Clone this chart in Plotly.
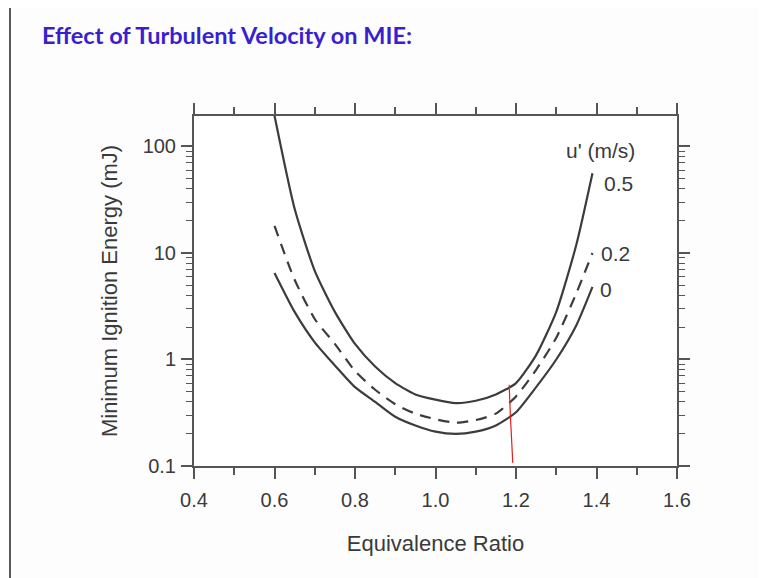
import plotly.graph_objects as go
import numpy as np

# Data
phi = [0.60, 0.65, 0.70, 0.75, 0.80, 0.85, 0.90, 0.95, 1.00, 1.05, 1.10, 1.15, 1.20, 1.25, 1.30, 1.35, 1.39]
mie_u05 = [195, 26, 6.8, 2.8, 1.4, 0.86, 0.6, 0.47, 0.42, 0.39, 0.41, 0.47, 0.6, 1.1, 2.8, 12, 56]
mie_u02 = [18, 5.6, 2.4, 1.4, 0.78, 0.52, 0.38, 0.31, 0.275, 0.255, 0.27, 0.31, 0.45, 0.8, 1.6, 4.2, 10]
mie_u00 = [6.5, 2.8, 1.45, 0.88, 0.55, 0.4, 0.29, 0.24, 0.21, 0.20, 0.21, 0.24, 0.32, 0.55, 1.0, 2.1, 4.8]

red_x = [1.183, 1.186, 1.192]
red_y = [0.58, 0.3, 0.107]

x_ticks = [0.4, 0.6, 0.8, 1.0, 1.2, 1.4, 1.6]
x_ticklabels = ["0.4", "0.6", "0.8", "1.0", "1.2", "1.4", "1.6"]
y_ticks = [0.1, 1, 10, 100]
y_ticklabels = ["0.1", "1", "10", "100"]

LINE = "#3c3c3c"
AX = "#555555"
FONT = "Liberation Sans, Arial, Helvetica, sans-serif"
TXT = "#3a3a3a"

fig = go.Figure()
fig.add_trace(go.Scatter(x=phi, y=mie_u05, mode="lines",
                         line=dict(color=LINE, width=2.2, shape="spline", smoothing=0.6)))
fig.add_trace(go.Scatter(x=phi, y=mie_u02, mode="lines",
                         line=dict(color=LINE, width=2.2, dash="11px,8px", shape="spline", smoothing=0.6)))
fig.add_trace(go.Scatter(x=phi, y=mie_u00, mode="lines",
                         line=dict(color=LINE, width=2.2, shape="spline", smoothing=0.6)))
fig.add_trace(go.Scatter(x=red_x, y=red_y, mode="lines",
                         line=dict(color="#e02020", width=1.2, shape="spline")))

tickfont = dict(family=FONT, size=20, color=TXT)
ann_font = dict(family=FONT, size=21, color=TXT)
title_font = dict(family=FONT, size=22, color=TXT)

# figure is placed 8px inside the page (body margin)
W, H = 759, 570
L, R, T, B = 186, 90, 108, 112
PW, PH = W - L - R, H - T - B

fig.update_layout(
    width=W, height=H,
    margin=dict(l=L, r=R, t=T, b=B),
    paper_bgcolor="#fdfdfd", plot_bgcolor="#ffffff",
    showlegend=False,
    xaxis=dict(range=[0.4, 1.6], tickvals=x_ticks, ticktext=x_ticklabels,
               showgrid=False, zeroline=False, showline=True, linecolor=AX, linewidth=2,
               mirror="ticks", ticks="outside", ticklen=11, tickwidth=1.5, tickcolor=AX,
               minor=dict(dtick=0.1, tick0=0.4, ticks="outside", ticklen=7, tickwidth=1.5, tickcolor=AX),
               tickfont=tickfont, ticklabelstandoff=4,
               title=dict(text="Equivalence Ratio", font=title_font, standoff=26)),
    yaxis=dict(type="log", range=[-1, 2.286], tickvals=y_ticks, ticktext=y_ticklabels,
               showgrid=False, zeroline=False, showline=True, linecolor=AX, linewidth=2,
               mirror="ticks", ticks="outside", ticklen=11, tickwidth=1.5, tickcolor=AX,
               minor=dict(dtick="D1", ticks="outside", ticklen=6, tickwidth=1.2, tickcolor=AX),
               tickfont=tickfont, ticklabelstandoff=1,
               title=dict(text="Minimum Ignition Energy (mJ)", font=title_font, standoff=19)),
    annotations=[
        dict(x=(32 - L) / PW, y=(H - B - 27) / PH, xref="paper", yref="paper",
             xanchor="left", yanchor="middle",
             text="<b>Effect of Turbulent Velocity on MIE:</b>", showarrow=False,
             font=dict(family="Lato, sans-serif", size=23.5, color="#3a1fd0")),
        dict(x=1.409, y=np.log10(92), xanchor="center", yanchor="middle", text="u' (m/s)",
             showarrow=False, font=ann_font),
        dict(x=1.414, y=np.log10(45), xanchor="left", yanchor="middle", text="0.5",
             showarrow=False, font=ann_font),
        dict(x=1.405, y=np.log10(9.9), xanchor="left", yanchor="middle", text="0.2",
             showarrow=False, font=ann_font),
        dict(x=1.403, y=np.log10(4.5), xanchor="left", yanchor="middle", text="0",
             showarrow=False, font=ann_font),
    ],
    shapes=[
        dict(type="line", xref="paper", yref="paper", x0=(2 - L) / PW, x1=(2 - L) / PW,
             y0=-(B + 20) / PH, y1=(H - B + 20) / PH, line=dict(color="#222222", width=1.5)),
    ],
)

fig.write_html("out.html")
